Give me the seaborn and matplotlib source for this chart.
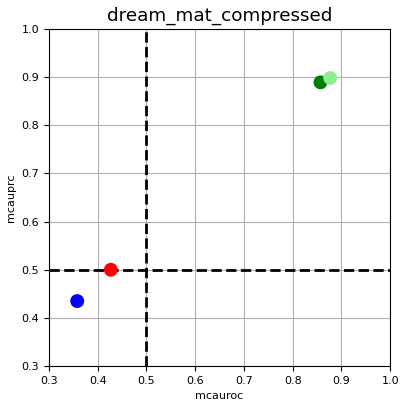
import matplotlib
matplotlib.use("Agg")
import matplotlib.pyplot as plt
import seaborn as sns
import pandas as pd

methods = ["m1", "m2", "m3", "m4"]
mcauroc = [0.358, 0.427, 0.857, 0.877]
mcauprc = [0.435, 0.500, 0.889, 0.898]
colors = ["blue", "red", "green", "lightgreen"]

df = pd.DataFrame({"method": methods, "mcauroc": mcauroc, "mcauprc": mcauprc})

fig, ax = plt.subplots(figsize=(4.01, 4.01), dpi=100)
ax.axvline(0.5, color="black", linestyle="--", linewidth=2, zorder=2)
ax.axhline(0.5, color="black", linestyle="--", linewidth=2, zorder=2)
sns.scatterplot(data=df, x="mcauroc", y="mcauprc", hue="method",
                palette=colors, s=100, edgecolor="none", legend=False,
                ax=ax, zorder=3)
ax.set_xlim(0.3, 1.0)
ax.set_ylim(0.3, 1.0)
ax.grid(True, color="#b0b0b0", linewidth=0.8)
ax.set_axisbelow(True)
ax.set_title("dream_mat_compressed", fontsize=13.2)
ax.set_xlabel("mcauroc", fontsize=8)
ax.set_ylabel("mcauprc", fontsize=8)
ax.tick_params(labelsize=8)
fig.subplots_adjust(left=0.122, right=0.973, top=0.928, bottom=0.087)
fig.savefig("out.png", dpi=100)
